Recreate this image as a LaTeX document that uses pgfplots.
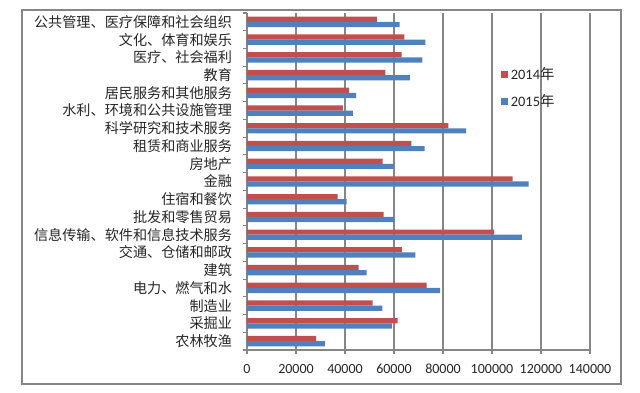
\documentclass[border=0pt]{standalone}
\usepackage{fontspec}
\setmainfont{Carlito}
\newfontfamily\cjk{Noto Sans CJK SC}
\usepackage{pgfplots}
\pgfplotsset{compat=1.18}
\definecolor{red14}{RGB}{192,80,77}
\definecolor{blue15}{RGB}{79,129,189}
\definecolor{gridgray}{RGB}{134,134,134}
\begin{document}
\begin{tikzpicture}
\useasboundingbox (0,0) rectangle (480pt,294.75pt);
\draw[gridgray, line width=0.9pt] (16.5pt,6.75pt) rectangle (465.75pt,287.25pt);
\begin{axis}[
  at={(185.25pt,32.25pt)}, anchor=south west,
  scale only axis, width=257.25pt, height=252.75pt,
  xbar, bar width=3.9pt,
  xmin=0, xmax=140000, ymin=-0.5, ymax=18.5,
  axis x line*=bottom, axis y line*=left,
  axis line style={gridgray, line width=0.8pt},
  xtick={0,20000,...,140000},
  scaled x ticks=false,
  /pgf/number format/fixed,
  /pgf/number format/precision=0,
  /pgf/number format/1000 sep={},
  /pgf/number format/assume math mode=true,
  xmajorgrids, major grid style={gridgray, line width=0.8pt},
  tick align=outside,
  major tick length=3pt,
  tick style={gridgray, line width=0.8pt},
  ytick={0,...,18},
  minor ytick={-0.5,0.5,...,18.5},
  minor tick length=3pt,
  major y tick style={draw=none},
  yticklabels={农林牧渔, 采掘业, 制造业, 电力、燃气和水, 建筑, 交通、仓储和邮政, 信息传输、软件和信息技术服务, 批发和零售贸易, 住宿和餐饮, 金融, 房地产, 租赁和商业服务, 科学研究和技术服务, 水利、环境和公共设施管理, 居民服务和其他服务, 教育, 医疗、社会福利, 文化、体育和娱乐, 公共管理、医疗保障和社会组织},
  yticklabel style={font=\cjk\fontsize{10.6}{12}\selectfont, text=black!85, xshift=-4.75pt},
  xticklabel style={font=\fontsize{10.5}{12}\selectfont, text=black!85, yshift=-4pt},
  legend style={at={(0.7405,0.777)}, anchor=west, draw=none, fill=none, inner sep=0pt,
    font=\fontsize{10.8}{12}\selectfont, text=black!85, row sep=6pt},
  legend cell align=left,
  legend image code/.code={\fill[#1] (0pt,-2.6pt) rectangle (5.2pt,2.6pt);},
]
\addplot[fill=red14, draw=none, bar shift=1.95pt] coordinates {
(28220,0) (61490,1) (51260,2) (73350,3) (45530,4) (63260,5) (100890,6) (55760,7) (36950,8) (108380,9) (55350,10) (67080,11) (82210,12) (39130,13) (41720,14) (56440,15) (63120,16) (64210,17) (53030,18)};
\addlegendentry{2014{\cjk 年}}
\addplot[fill=blue15, draw=none, bar shift=-1.95pt] coordinates {
(31770,0) (59170,1) (55210,2) (78800,3) (48810,4) (68710,5) (112200,6) (60120,7) (40630,8) (114930,9) (59850,10) (72530,11) (89430,12) (43220,13) (44580,14) (66530,15) (71570,16) (72800,17) (62300,18)};
\addlegendentry{2015{\cjk 年}}
\end{axis}
\end{tikzpicture}
\end{document}
